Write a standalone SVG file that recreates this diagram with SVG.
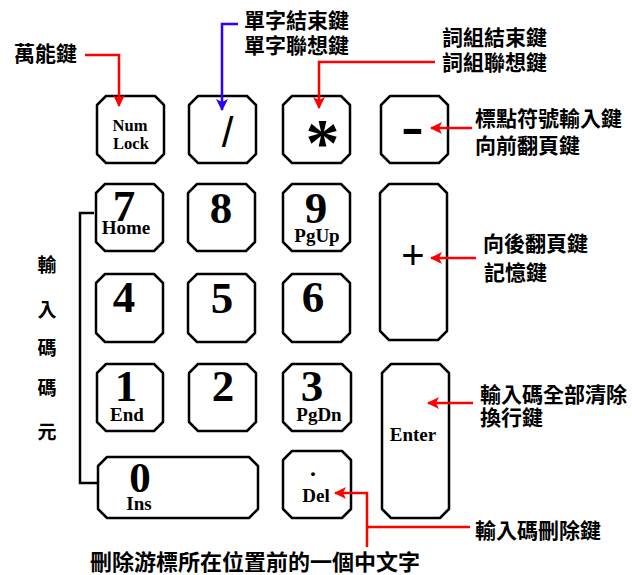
<svg xmlns="http://www.w3.org/2000/svg" width="632" height="575" viewBox="0 0 632 575">
<style>
.key{fill:#fff;stroke:#000;stroke-width:2.5;stroke-linejoin:round}
.lbl{font-family:"Noto Sans CJK TC","Noto Sans CJK SC",sans-serif;font-weight:bold;font-size:21px;fill:#000}
.vl{font-family:"Noto Sans CJK TC",sans-serif;font-weight:bold;font-size:19px;fill:#000;text-anchor:middle}
.dig{font-family:"Liberation Serif",serif;font-weight:bold;font-size:45px;text-anchor:middle;fill:#000}
.sub{font-family:"Liberation Serif",serif;font-weight:bold;font-size:19px;text-anchor:middle;fill:#000}
.red{fill:none;stroke:#ff0000;stroke-width:2.5}
.blue{fill:none;stroke:#2a00ff;stroke-width:2.5}
.blk{fill:none;stroke:#000;stroke-width:2.5}
</style>
<defs>
<marker id="ar" viewBox="0 0 12 12" refX="11" refY="6" markerWidth="12" markerHeight="12" orient="auto" markerUnits="userSpaceOnUse"><path d="M0,0 L12,6 L0,12 L3,6 z" fill="#ff0000"/></marker>
<marker id="ab" viewBox="0 0 12 12" refX="11" refY="6" markerWidth="12" markerHeight="12" orient="auto" markerUnits="userSpaceOnUse"><path d="M0,0 L12,6 L0,12 L3,6 z" fill="#2a00ff"/></marker>
</defs>
<rect width="632" height="575" fill="#fff"/>

<g id="key-numlock"><polygon class="key" points="106,96 155,96 164,105 164,154 155,163 106,163 97,154 97,105"/>
<text class="sub" x="130" y="131" style="font-size:16.5px">Num</text><text class="sub" x="131" y="149" style="font-size:16.5px">Lock</text></g>
<g id="key-slash"><polygon class="key" points="198,96 247,96 256,105 256,154 247,163 198,163 189,154 189,105"/>
<text x="227.5" y="147" font-family="Liberation Sans,sans-serif" font-size="42" text-anchor="middle">/</text></g>
<g id="key-star"><polygon class="key" points="292,96 341,96 350,105 350,154 341,163 292,163 283,154 283,105"/>
<text class="dig" x="322.5" y="165" style="font-size:68px">*</text></g>
<g id="key-minus"><polygon class="key" points="390,96 439,96 448,105 448,154 439,163 390,163 381,154 381,105"/>
<text x="412.5" y="143" font-family="Liberation Sans,sans-serif" font-weight="bold" font-size="42" text-anchor="middle" textLength="23" lengthAdjust="spacingAndGlyphs">-</text></g>

<g id="key-7"><polygon class="key" points="105,184 154,184 163,193 163,242 154,251 105,251 96,242 96,193"/>
<text class="dig" x="124" y="221">7</text><text class="sub" x="126" y="234">Home</text></g>
<g id="key-8"><polygon class="key" points="197,184 246,184 255,193 255,242 246,251 197,251 188,242 188,193"/>
<text class="dig" x="221" y="223">8</text></g>
<g id="key-9"><polygon class="key" points="292,184 341,184 350,193 350,242 341,251 292,251 283,242 283,193"/>
<text class="dig" x="316" y="223">9</text><text class="sub" x="317" y="242">PgUp</text></g>
<g id="key-plus"><polygon class="key" points="389,184 438,184 447,193 447,331 438,340 389,340 380,331 380,193"/>
<text x="413" y="269" font-family="Liberation Sans,sans-serif" font-size="40" text-anchor="middle">+</text></g>

<g id="key-4"><polygon class="key" points="105,274 154,274 163,283 163,333 154,342 105,342 96,333 96,283"/>
<text class="dig" x="124" y="312">4</text></g>
<g id="key-5"><polygon class="key" points="197,274 246,274 255,283 255,333 246,342 197,342 188,333 188,283"/>
<text class="dig" x="222" y="313">5</text></g>
<g id="key-6"><polygon class="key" points="292,274 341,274 350,283 350,333 341,342 292,342 283,333 283,283"/>
<text class="dig" x="313" y="312">6</text></g>

<g id="key-1"><polygon class="key" points="106,364 154,364 163,373 163,422 154,431 106,431 97,422 97,373"/>
<text class="dig" x="126" y="401">1</text><text class="sub" x="127" y="421">End</text></g>
<g id="key-2"><polygon class="key" points="198,364 247,364 256,373 256,422 247,431 198,431 189,422 189,373"/>
<text class="dig" x="223" y="401">2</text></g>
<g id="key-3"><polygon class="key" points="292,364 342,364 351,373 351,422 342,431 292,431 283,422 283,373"/>
<text class="dig" x="312" y="401">3</text><text class="sub" x="319" y="421">PgDn</text></g>
<g id="key-enter"><polygon class="key" points="391,364 440,364 449,373 449,509 440,518 391,518 382,509 382,373"/>
<text class="sub" x="413" y="441">Enter</text></g>

<g id="key-0"><polygon class="key" points="107,457 249,457 258,466 258,509 249,518 107,518 98,509 98,466"/>
<text class="dig" x="140" y="492" style="font-size:43px">0</text><text class="sub" x="139" y="510">Ins</text></g>
<g id="key-del"><polygon class="key" points="292,451 342,451 351,460 351,509 342,518 292,518 283,509 283,460"/>
<text class="sub" x="313" y="476" style="font-size:24px">.</text><text class="sub" x="316" y="502">Del</text></g>

<g id="connectors">
<path class="red" d="M85,55 H119 V106" marker-end="url(#ar)"/>
<path class="blue" d="M238,24 H222 V110" marker-end="url(#ab)"/>
<path class="red" d="M435,62 H319 V108" marker-end="url(#ar)"/>
<path class="red" d="M472,128 H431" marker-end="url(#ar)"/>
<path class="red" d="M476,258 H431" marker-end="url(#ar)"/>
<path class="red" d="M473,403 H428" marker-end="url(#ar)"/>
<path class="red" d="M470,527 H367"/>
<path class="red" d="M367,547 V493 H335" marker-end="url(#ar)"/>
<path class="blk" d="M94,213 H80 V483 H98"/>
</g>

<g id="labels">
<text class="lbl" x="14" y="61">萬能鍵</text>
<text class="lbl" x="244" y="28">單字結束鍵</text>
<text class="lbl" x="244" y="53">單字聯想鍵</text>
<text class="lbl" x="442" y="45">詞組結束鍵</text>
<text class="lbl" x="442" y="70">詞組聯想鍵</text>
<text class="lbl" x="475" y="126">標點符號輸入鍵</text>
<text class="lbl" x="475" y="153">向前翻頁鍵</text>
<text class="lbl" x="483" y="251">向後翻頁鍵</text>
<text class="lbl" x="484" y="280">記憶鍵</text>
<text class="lbl" x="480" y="402">輸入碼全部清除</text>
<text class="lbl" x="480" y="425">換行鍵</text>
<text class="lbl" x="475" y="538">輸入碼刪除鍵</text>
<text class="lbl" x="90" y="570" style="font-size:22px">刪除游標所在位置前的一個中文字</text>
<text class="vl" x="47" y="272">輸</text>
<text class="vl" x="47" y="317">入</text>
<text class="vl" x="47" y="355">碼</text>
<text class="vl" x="47" y="395">碼</text>
<text class="vl" x="47" y="439">元</text>
</g>
</svg>
